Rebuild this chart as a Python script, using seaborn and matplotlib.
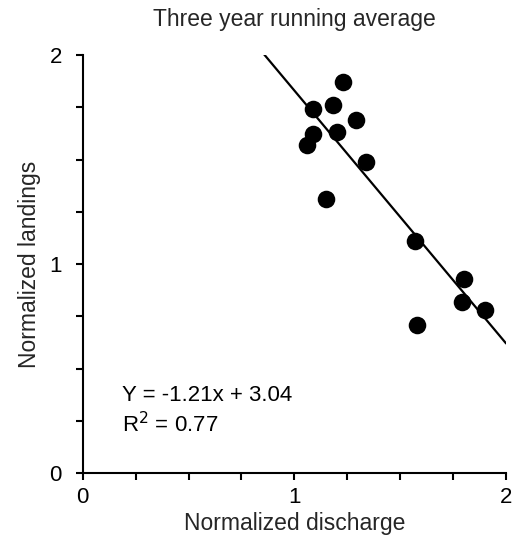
import numpy as np
import pandas as pd
import matplotlib
matplotlib.use("Agg")
import matplotlib.pyplot as plt
from matplotlib.ticker import MultipleLocator
import seaborn as sns

# Data
discharge = [1.23, 1.18, 1.09, 1.29, 1.20, 1.09, 1.06, 1.34, 1.15, 1.57, 1.80, 1.79, 1.90, 1.58]
landings = [1.87, 1.76, 1.74, 1.69, 1.63, 1.62, 1.57, 1.49, 1.31, 1.11, 0.93, 0.82, 0.78, 0.71]

# Fitted line from annotation
slope = -1.21
intercept = 3.04
fit_x = [0.85, 2.0]

sns.set_theme(style="ticks")
plt.rcParams['font.family'] = ['Liberation Sans', 'DejaVu Sans']

df = pd.DataFrame({'discharge': discharge, 'landings': landings})
fit_df = pd.DataFrame({'x': fit_x, 'y': [slope * v + intercept for v in fit_x]})

fig = plt.figure(figsize=(5.12, 5.45), dpi=100)
ax = fig.add_axes([0.1615, 0.132, 0.827, 0.767])

sns.lineplot(data=fit_df, x='x', y='y', ax=ax, color='black', linewidth=1.6)
sns.scatterplot(data=df, x='discharge', y='landings', ax=ax, color='black',
                s=160, edgecolor='black', linewidth=0, zorder=3)

ax.set_xlim(0, 2)
ax.set_ylim(0, 2)
ax.xaxis.set_major_locator(MultipleLocator(1))
ax.yaxis.set_major_locator(MultipleLocator(1))
ax.xaxis.set_minor_locator(MultipleLocator(0.25))
ax.yaxis.set_minor_locator(MultipleLocator(0.25))
ax.tick_params(which='both', direction='out', length=5, width=1.5, colors='black',
               labelsize=16)
ax.tick_params(axis='x', pad=5)
ax.tick_params(axis='y', pad=10)

for side in ['top', 'right']:
    ax.spines[side].set_visible(False)
for side in ['left', 'bottom']:
    ax.spines[side].set_linewidth(1.5)
    ax.spines[side].set_color('black')

ax.set_xlabel('Normalized discharge', fontsize=16.5, labelpad=3)
ax.set_ylabel('Normalized landings', fontsize=16.5, labelpad=6)
ax.set_title('Three year running average', fontsize=16.5, pad=21)

ax.text(0.185, 0.373, 'Y = -1.21x + 3.04', fontsize=16, color='black', va='center')
ax.text(0.185, 0.23, 'R$^{2}$ = 0.77', fontsize=16, color='black', va='center')

fig.savefig('out.png', dpi=100)
